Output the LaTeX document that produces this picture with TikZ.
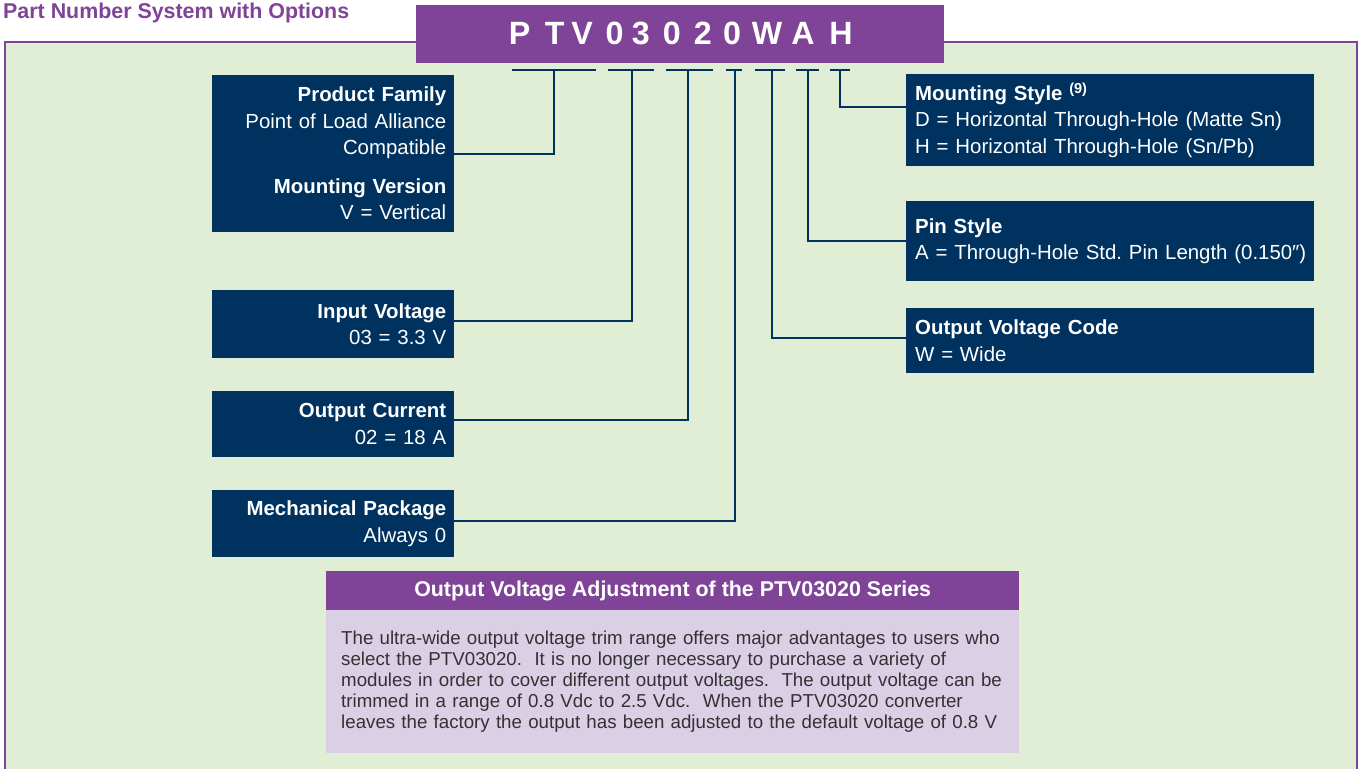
\documentclass[tikz,border=0pt]{standalone}
\usepackage{fontspec}
\setmainfont{Liberation Sans}
\definecolor{navybox}{RGB}{0,50,96}
\definecolor{ptpurple}{RGB}{127,68,151}
\definecolor{panelgreen}{RGB}{225,238,214}
\definecolor{lavbox}{RGB}{219,207,230}
\definecolor{bodygray}{RGB}{50,50,50}

\begin{document}
\begin{tikzpicture}[x=1pt,y=-1pt,
    conn/.style={draw=navybox, line width=2.2pt},
    lbox/.style={fill=navybox, text=white, anchor=north west, inner xsep=8pt, inner ysep=0pt,
        text width=226pt, align=right, font=\fontsize{20.4}{26.5}\selectfont},
    rbox/.style={fill=navybox, text=white, anchor=north west, inner xsep=9pt, inner ysep=0pt,
        text width=390pt, align=left, font=\fontsize{20.4}{26.5}\selectfont},
    partchar/.style={text=white, anchor=base, inner sep=0pt, font=\bfseries\fontsize{32.2}{33}\selectfont}]
    \useasboundingbox (0,0) rectangle (1360,769); %Tamano de la figura

    %Panel verde
    \fill[panelgreen] (5,42) rectangle (1357,769); %Fondo
    \draw[ptpurple, line width=2.5pt] (5,769) -- (5,42) -- (1357,42) -- (1357,769); %Borde morado
    \node[anchor=base west, inner sep=0pt, text=ptpurple, font=\bfseries\fontsize{21.4}{21.4}\selectfont] (title) at (3,18.5) {Part Number System with Options}; %Titulo

    %Numero de parte
    \fill[ptpurple] (416,5) rectangle (944,63); %Caja del numero
    \foreach \ch/\x [count=\i] in {P/519.5,T/554.6,V/582,0/614.5,3/640.7,0/671.7,2/702.7,0/732,W/767,A/803,H/841}
        \node[partchar] (ch\i) at (\x,44) {\ch}; %Letras
    \foreach \a/\b in {512/596,608/654,666/713,726/742,755/785,796/819,830/850}
        \draw[conn] (\a,70) -- (\b,70); %Rayas bajo el numero

    %Puntos de salida de las rayas
    \coordinate (tPF) at (554,70);
    \coordinate (tIV) at (632,70);
    \coordinate (tOC) at (688,70);
    \coordinate (tMP) at (735,70);
    \coordinate (tOVC) at (772,70);
    \coordinate (tPS) at (808,70);
    \coordinate (tMS) at (840,70);

    %Cajas izquierda
    \node[lbox, minimum height=157pt] (pf) at (212,75) {\textbf{Product Family}\\Point of Load Alliance\\Compatible\\[12pt]\textbf{Mounting Version}\\V = Vertical}; %Familia
    \node[lbox, minimum height=68pt] (iv) at (212,290) {\textbf{Input Voltage}\\03 = 3.3 V}; %Voltaje de entrada
    \node[lbox, minimum height=66pt] (oc) at (212,391) {\textbf{Output Current}\\02 = 18 A}; %Corriente
    \node[lbox, minimum height=67pt] (mp) at (212,490) {\textbf{Mechanical Package}\\Always 0}; %Paquete

    %Cajas derecha
    \node[rbox, minimum height=92pt] (ms) at (906,74) {\textbf{Mounting Style}~\raisebox{7pt}{\bfseries\fontsize{14.5}{14.5}\selectfont(9)}\\D = Horizontal Through-Hole (Matte Sn)\\H = Horizontal Through-Hole (Sn/Pb)}; %Montaje
    \node[rbox, minimum height=80pt] (ps) at (906,201) {\textbf{Pin Style}\\\mbox{A = Through-Hole Std.\ Pin Length (0.150\char"2033)}}; %Pines
    \node[rbox, minimum height=65pt] (ovc) at (906,308) {\textbf{Output Voltage Code}\\W = Wide}; %Voltaje de salida

    %Conectores
    \draw[conn] (tPF) |- (pf.east);
    \draw[conn] (tIV) |- ([yshift=3pt]iv.east);
    \draw[conn] (tOC) |- ([yshift=4pt]oc.east);
    \draw[conn] (tMP) |- ([yshift=2.5pt]mp.east);
    \draw[conn] (tOVC) |- ([yshift=2.5pt]ovc.west);
    \draw[conn] (tPS) |- (ps.west);
    \draw[conn] (tMS) |- ([yshift=13pt]ms.west);

    %Recuadro de ajuste
    \node[fill=ptpurple, text=white, anchor=north west, minimum width=693pt, minimum height=39pt, inner sep=0pt,
        font=\bfseries\fontsize{21.4}{21.4}\selectfont] (adjtitle) at (326,571) {Output Voltage Adjustment of the PTV03020 Series}; %Cabecera
    \node[fill=lavbox, text=bodygray, anchor=north west, minimum height=143pt, text width=663pt, inner xsep=15pt,
        align=left, font=\fontsize{18.7}{21.2}\selectfont] (adjbody) at (326,610)
        {\mbox{The ultra-wide output voltage trim range offers major advantages to users who}\\
        \mbox{select the PTV03020.\ \ It is no longer necessary to purchase a variety of}\\
        \mbox{modules in order to cover different output voltages.\ \ The output voltage can be}\\
        \mbox{trimmed in a range of 0.8 Vdc to 2.5 Vdc.\ \ When the PTV03020 converter}\\
        \mbox{leaves the factory the output has been adjusted to the default voltage of 0.8 V}}; %Texto
\end{tikzpicture}
\end{document}
